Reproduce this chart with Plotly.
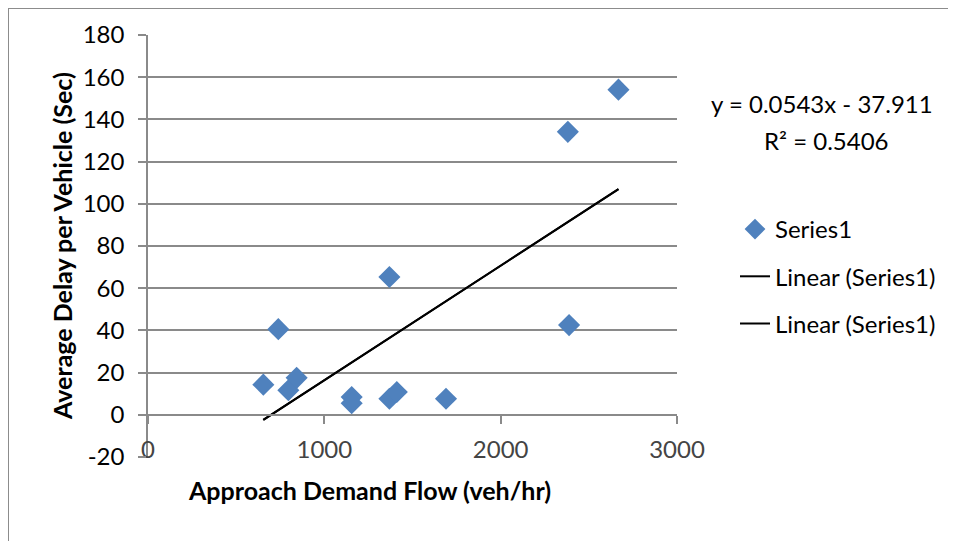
import plotly.graph_objects as go

# Data
flow = [654, 739, 796, 843, 1155, 1155, 1369, 1369, 1411, 1690, 2381, 2388, 2668]
delay = [14.3, 40.6, 11.6, 17.5, 8.4, 5.5, 65.3, 7.6, 10.8, 7.6, 134.1, 42.5, 154.1]
slope = 0.0543
intercept = -37.911
r2 = 0.5406
x_ticks = [0, 1000, 2000, 3000]
y_ticks = list(range(-20, 181, 20))

FONT = "Lato"
GRID = "#8a8a8a"

x_fit = [min(flow), max(flow)]
y_fit = [slope * v + intercept for v in x_fit]

fig = go.Figure()
fig.add_trace(go.Scatter(
    x=flow, y=delay, mode="markers", name="Series1",
    marker=dict(symbol="diamond", size=17, color="#4F81BD"),
    legendgroup="a",
))
fig.add_trace(go.Scatter(
    x=x_fit, y=y_fit, mode="lines", name="Linear (Series1)",
    line=dict(color="black", width=2), legendgroup="b",
))
fig.add_trace(go.Scatter(
    x=x_fit, y=y_fit, mode="lines", name="Linear (Series1)",
    line=dict(color="black", width=2), legendgroup="c",
))
# dummy trace to realise the axis line at y = 0
fig.add_trace(go.Scatter(
    x=[0], y=[None], xaxis="x2", yaxis="y", mode="markers",
    showlegend=False, hoverinfo="skip",
))

OFF = 8  # page body margin
W, H = 956, 541
# target plot area in page pixels: x 148..677, y 35..457
L = 148 - OFF
T = 35 - OFF
R = W - (677 - OFF)
B = H - (457 - OFF)
pw = W - L - R
ph = H - T - B

def px_x(p):
    return (p - OFF - L) / pw

def px_y(p):
    return (H - B - (p - OFF)) / ph

fig.update_layout(
    width=W, height=H,
    margin=dict(l=L, r=R, t=T, b=B),
    paper_bgcolor="white", plot_bgcolor="white",
    font=dict(family=FONT, size=24, color="black"),
    showlegend=True,
    legend=dict(
        x=px_x(735), y=px_y(207), xanchor="left", yanchor="top",
        font=dict(family=FONT, size=24, color="black"),
        traceorder="grouped", tracegroupgap=13,
        bgcolor="rgba(0,0,0,0)",
    ),
    xaxis=dict(
        range=[0, 3000], tickvals=x_ticks, ticktext=[str(v) for v in x_ticks],
        showgrid=False, zeroline=False,
        showline=False, ticks="", ticklabelposition="inside",
        ticklabeloverflow="allow", ticklabelstandoff=-9,
        tickfont=dict(family=FONT, size=24),
    ),
    xaxis2=dict(
        range=[0, 3000], tickvals=x_ticks, overlaying="x", anchor="free",
        position=20 / 200, showgrid=False, zeroline=False, showline=True,
        linecolor=GRID, linewidth=1.5, ticks="outside", ticklen=8,
        tickcolor=GRID, tickwidth=1.5, showticklabels=False,
    ),
    yaxis=dict(
        range=[-20, 180], tickvals=y_ticks, ticktext=[str(v) for v in y_ticks],
        showgrid=True, gridcolor=GRID,
        gridwidth=1.5, zeroline=False, showline=True, linecolor=GRID,
        linewidth=1.5, ticks="outside", ticklen=8, tickcolor=GRID,
        tickwidth=1.5, tickfont=dict(family=FONT, size=24),
        ticklabelstandoff=9,
    ),
    annotations=[
        dict(text="<b>Approach Demand Flow (veh/hr)</b>", xref="paper", yref="paper",
             x=px_x(369), y=px_y(490), xanchor="center", yanchor="middle",
             showarrow=False, font=dict(family=FONT, size=25)),
        dict(text="<b>Average Delay per Vehicle (Sec)</b>", xref="paper", yref="paper",
             x=px_x(62), y=px_y(246), xanchor="center", yanchor="middle",
             textangle=-90, showarrow=False, font=dict(family=FONT, size=25)),
        dict(text=f"y = {slope}x - {abs(intercept)}", xref="paper", yref="paper",
             x=px_x(822), y=px_y(104), xanchor="center", yanchor="middle",
             showarrow=False, font=dict(family=FONT, size=24)),
        dict(text=f"R² = {r2}", xref="paper", yref="paper",
             x=px_x(826), y=px_y(140), xanchor="center", yanchor="middle",
             showarrow=False, font=dict(family=FONT, size=24)),
    ],
    shapes=[
        dict(type="line", xref="paper", yref="paper", x0=px_x(8), x1=px_x(W + 20),
             y0=px_y(8), y1=px_y(8), line=dict(color="#8c8c8c", width=2)),
        dict(type="line", xref="paper", yref="paper", x0=px_x(8), x1=px_x(8),
             y0=px_y(8), y1=px_y(H + 20), line=dict(color="#8c8c8c", width=2)),
    ],
)

fig.write_html("out.html")
